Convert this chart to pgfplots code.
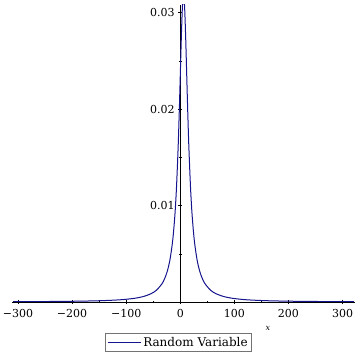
\documentclass[border=0pt]{standalone}
\usepackage{pgfplots}
\pgfplotsset{compat=1.18}
\usepackage{fontspec}
\setmainfont{DejaVu Serif}
\definecolor{maplenavy}{rgb}{0.08,0.08,0.55}
\begin{document}
\begin{tikzpicture}
\begin{axis}[
  at={(0,0)}, anchor=south west,
  scale only axis, width=343pt, height=297pt,
  axis lines=middle,
  hide obscured x ticks=false,
  xmin=-311, xmax=323, ymin=0, ymax=0.03078,
  xtick={-300,-200,-100,0,100,200,300},
  xticklabels={−300,−200,−100,0,100,200,300},
  minor xtick={-250,-150,-50,50,150,250},
  ytick={0.01,0.02,0.03},
  yticklabels={0.01,0.02,0.03},
  scaled y ticks=false,
  minor ytick={0.005,0.015,0.025},
  tick label style={font=\fontsize{11}{13}\selectfont},
  xticklabel style={anchor=north, yshift=-2pt},
  major tick length=4pt, minor tick length=2.5pt,
  tick style={black, thin},
  axis line style={black, thin, -},
  xlabel={\itshape x},
  xlabel style={at={(rel axis cs:0.746,0)}, anchor=center, yshift=-26pt, font=\fontsize{8}{9}\selectfont},
  legend style={at={(rel axis cs:0.485,0)}, anchor=north, yshift=-31pt, draw=black!55, line width=1pt, font=\fontsize{12}{14}\selectfont, inner sep=1.5pt, legend cell align=left},
  legend image code/.code={\draw[#1, draw=maplenavy, line width=1.2pt] (0pt,0pt) -- (33pt,0pt);},
  clip=true,
]
\addplot[maplenavy, line width=1pt, smooth] coordinates {
(-309,0.0000320) (-244,0.0000508) (-194,0.0000794) (-154,0.000124) (-124,0.000187)
(-104,0.000261) (-84,0.000388) (-69,0.000556) (-54,0.000860) (-44,0.001224)
(-34,0.001872) (-29,0.002402) (-24,0.003183) (-19,0.004391) (-14,0.006366)
(-10,0.008941) (-7,0.011833) (-4,0.015915) (-2,0.019409) (0,0.023405)
(2,0.027441) (4,0.030607) (6,0.031831) (8,0.030607) (10,0.027441)
(12,0.023405) (14,0.019409) (16,0.015915) (19,0.011833) (22,0.008941)
(26,0.006366) (31,0.004391) (36,0.003183) (41,0.002402) (46,0.001872)
(56,0.001224) (66,0.000860) (81,0.000556) (96,0.000388) (116,0.000261)
(136,0.000187) (166,0.000124) (206,0.0000794) (256,0.0000508) (321,0.0000320)
};
\addlegendentry{Random Variable}
\end{axis}
\pgfresetboundingbox
\path (-12pt,-53pt) rectangle (343pt,302pt);
\end{tikzpicture}
\end{document}
